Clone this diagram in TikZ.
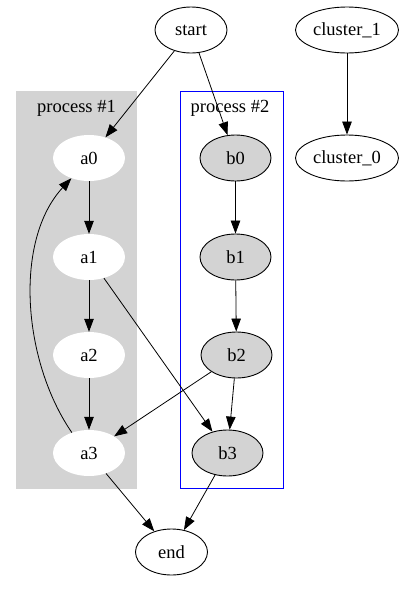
\documentclass[tikz,border=0pt]{standalone}
\usepackage{fontspec}
\setmainfont{Liberation Serif}
\usetikzlibrary{shapes.geometric,arrows.meta}
\definecolor{gvgray}{HTML}{D3D3D3}
\newcommand{\gvfont}{\fontsize{18.5}{22}\selectfont}
\tikzset{
  gv/.style={ellipse, draw, line width=0.9pt, minimum width=72pt, minimum height=46pt, inner sep=0pt, font=\gvfont},
  wnode/.style={ellipse, fill=white, minimum width=72pt, minimum height=46pt, inner sep=0pt, font=\gvfont},
  gnode/.style={gv, fill=gvgray, minimum width=71pt},
  edge/.style={line width=0.8pt, -{Triangle[length=13pt,width=9.5pt]}},
  clabel/.style={font=\gvfont, inner sep=0pt}
}
\begin{document}
\begin{tikzpicture}[x=1pt,y=-1pt]
\useasboundingbox (0,0) rectangle (404,592);
% clusters
\fill[gvgray] (16,91) rectangle (137,489);
\node[clabel] (p1) at (76.5,108) {process \#1};
\draw[blue, line width=1pt] (180.5,91) rectangle (283,488);
\node[clabel] (p2) at (230,108) {process \#2};
% nodes
\node[gv] (start) at (191,30) {start};
\node[gv, minimum width=103pt] (c1) at (347,30) {cluster\_1};
\node[gv, minimum width=103pt] (c0) at (347,158) {cluster\_0};
\node[wnode] (a0) at (89,158) {a0};
\node[wnode] (a1) at (89,257) {a1};
\node[wnode] (a2) at (89,355) {a2};
\node[wnode] (a3) at (89,453) {a3};
\node[gnode] (b0) at (235.5,158) {b0};
\node[gnode] (b1) at (235.5,257) {b1};
\node[gnode] (b2) at (236.5,355) {b2};
\node[gnode] (b3) at (227.5,453) {b3};
\node[gv] (end) at (171.5,552) {end};
% edges
\draw[edge] (start) -- (a0);
\draw[edge] (start) -- (b0);
\draw[edge] (c1) -- (c0);
\draw[edge] (a0) -- (a1);
\draw[edge] (a1) -- (a2);
\draw[edge] (a2) -- (a3);
\draw[edge] (b0) -- (b1);
\draw[edge] (b1) -- (b2);
\draw[edge] (b2) -- (b3);
\draw[edge] (a1) -- (b3);
\draw[edge] (b2) -- (a3);
\draw[edge] (a3) -- (end);
\draw[edge] (b3) -- (end);
\draw[edge] (a3.130) .. controls (22,360) and (14,240) .. (a0.229);
\end{tikzpicture}
\end{document}
